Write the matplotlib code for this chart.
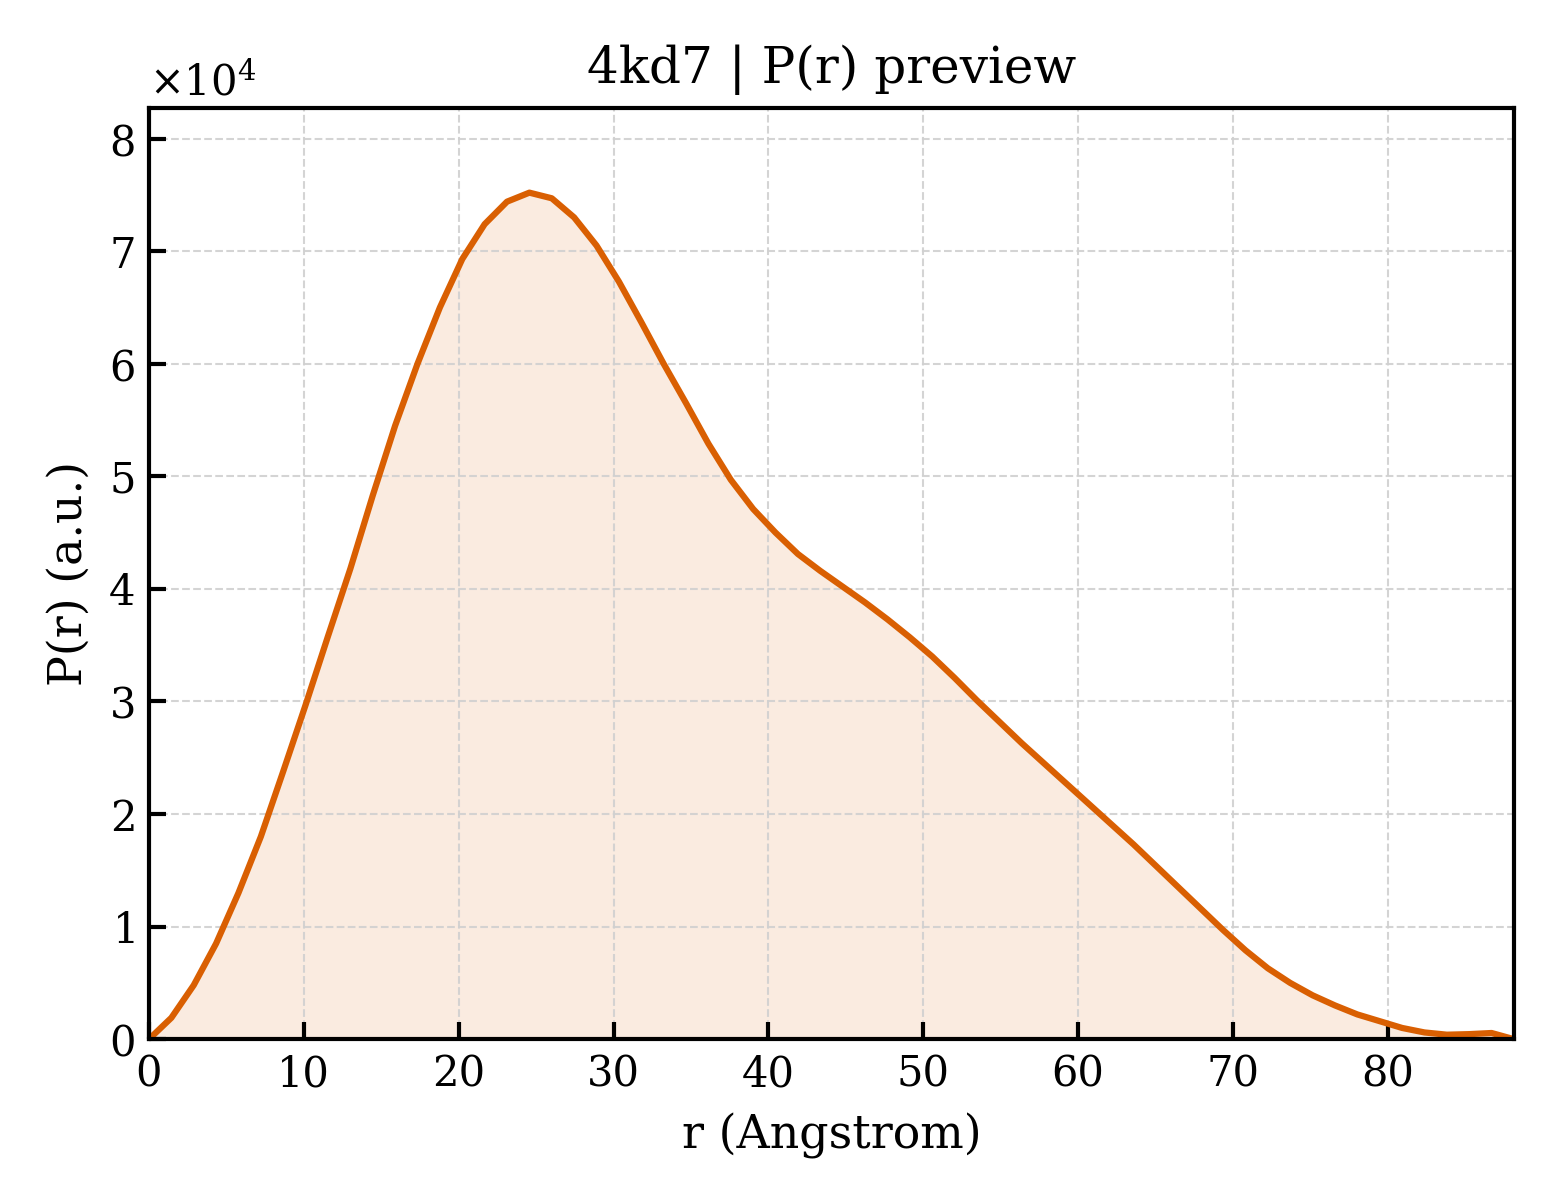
import numpy as np
import matplotlib
matplotlib.use("Agg")
import matplotlib.pyplot as plt
from matplotlib.ticker import ScalarFormatter

# P(r) samples, spacing ~1.445 A, Dmax ~88.15
n_points = 62
r_step = 1.445
pr_vals = [
    0.00, 0.19, 0.48, 0.85, 1.30, 1.80, 2.38, 2.97, 3.58, 4.18,
    4.83, 5.45, 6.00, 6.50, 6.93, 7.24, 7.44, 7.52, 7.47, 7.30,
    7.05, 6.73, 6.37, 6.00, 5.65, 5.29, 4.97, 4.71, 4.50, 4.31,
    4.16, 4.02, 3.88, 3.73, 3.57, 3.40, 3.21, 3.01, 2.82, 2.63,
    2.45, 2.27, 2.09, 1.91, 1.73, 1.54, 1.35, 1.16, 0.97, 0.79,
    0.63, 0.50, 0.39, 0.30, 0.22, 0.16, 0.10, 0.06, 0.04, 0.045,
    0.055, 0.00,
]

r = np.arange(n_points) * r_step
pr = np.array(pr_vals) * 1e4

plt.rcParams['font.family'] = ['DejaVu Serif']
plt.rcParams['mathtext.fontset'] = 'dejavuserif'

color = '#d95f02'

fig = plt.figure(figsize=(5.2, 4), dpi=300)
ax = fig.add_axes([0.0955, 0.134, 0.875, 0.776])

ax.fill_between(r, pr, 0, color=color, alpha=0.12, linewidth=0)
ax.plot(r, pr, color=color, lw=1.5)

ax.set_xlim(0, r[-1])
ax.set_ylim(0, pr.max() * 1.1)

fmt = ScalarFormatter(useMathText=True)
fmt.set_powerlimits((0, 0))
ax.yaxis.set_major_formatter(fmt)
ax.yaxis.get_offset_text().set_fontsize(10)

ax.grid(True, ls='--', lw=0.5, color='#d0d0d0', alpha=0.9)
ax.tick_params(direction='in', labelsize=10, length=4, width=1)
for s in ax.spines.values():
    s.set_linewidth(1)

ax.set_xlabel('r (Angstrom)', fontsize=11)
ax.set_ylabel('P(r) (a.u.)', fontsize=11)
ax.set_title('4kd7 | P(r) preview', fontsize=12)

fig.savefig('out.png', dpi=300)
